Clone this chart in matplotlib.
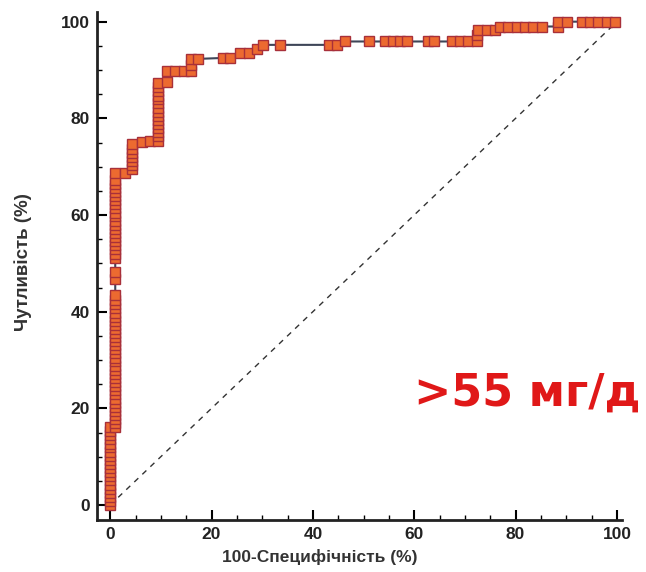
import matplotlib.pyplot as plt

# ROC points (100-specificity %, sensitivity %)
# first vertical run sits at x = 0, second one at x = 1
col0_fpr = 0.0
col0_tpr = [0, 0.8, 1.7, 2.5, 3.4, 4.2, 5.1, 5.9, 6.8, 7.6,
            8.5, 9.3, 10.2, 11.0, 11.9, 12.7, 13.6, 14.4, 15.3, 16.1]
col1_fpr = 1.0
col1_tpr = [16.1, 16.9, 17.8, 18.6, 19.5, 20.3, 21.2, 22.0, 22.9, 23.7,
            24.6, 25.4, 26.3, 27.1, 28.0, 28.8, 29.7, 30.5, 31.4, 32.2,
            33.1, 33.9, 34.7, 35.6, 36.4, 37.3, 38.1, 39.0, 39.8, 40.7,
            41.5, 42.4, 43.4, 46.7, 48.2, 51.2, 52.0, 52.9, 53.7, 54.6,
            55.4, 56.3, 57.1, 58.0, 58.8, 59.7, 60.5, 61.4, 62.2, 63.1,
            63.9, 64.8, 65.6, 66.5, 67.3, 68.6]
tail_fpr = [3.0, 4.4, 4.4, 4.4, 4.4, 4.4, 4.4, 4.4, 6.2, 7.9,
            9.4, 9.4, 9.4, 9.4, 9.4, 9.4, 9.4, 9.4, 9.4, 9.4, 9.4, 9.4, 9.4, 9.4, 9.4,
            11.2, 11.2, 12.8, 14.5, 16.0, 16.0, 16.0, 17.4, 22.3, 23.7,
            25.6, 27.3, 28.9, 30.2, 33.5, 43.1, 44.7, 46.4, 51.0, 54.2,
            55.8, 57.2, 58.6, 62.7, 63.9, 67.4, 69.0, 70.6, 72.4, 72.4,
            72.6, 74.3, 75.9, 76.9, 78.5, 80.3, 81.9, 83.4, 85.2, 88.4,
            88.4, 90.1, 93.1, 94.7, 96.3, 98.0, 99.6]
tail_tpr = [68.6, 69.5, 70.3, 71.2, 72.0, 72.9, 73.7, 74.6, 75.2, 75.4,
            75.4, 76.3, 77.1, 78.0, 78.8, 79.7, 80.5, 81.4, 82.2, 83.1, 83.9, 84.7, 85.6, 86.4, 87.3,
            87.6, 89.7, 89.7, 89.7, 89.7, 91.0, 92.3, 92.3, 92.5, 92.5,
            93.5, 93.5, 94.4, 95.2, 95.2, 95.2, 95.2, 95.9, 95.9, 95.9,
            95.9, 95.9, 95.9, 95.9, 95.9, 95.9, 95.9, 95.9, 95.9, 97.3,
            98.2, 98.2, 98.2, 99.0, 99.0, 99.0, 99.0, 99.0, 99.0, 99.0,
            100, 100, 100, 100, 100, 100, 100]

fpr = [col0_fpr] * len(col0_tpr) + [col1_fpr] * len(col1_tpr) + tail_fpr
tpr = col0_tpr + col1_tpr + tail_tpr

xlbl = '100-Специфічність (%)'
ylbl = 'Чутливість (%)'
note = '>55 мг/д'

plt.rcParams['font.family'] = ['Liberation Sans', 'DejaVu Sans']

fig = plt.figure(figsize=(6.46, 5.72), dpi=100)
ax = fig.add_axes([97 / 646, 52 / 572, 525 / 646, 508 / 572])

# reference diagonal
ax.plot([0, 100], [0, 100], ls=(0, (4, 4)), color='#333333', lw=1.0, zorder=1)
# ROC curve
ax.plot(fpr, tpr, '-s', color='#3e4658', lw=1.5, ms=7.8,
        mfc='#ec6a30', mec='#a8303a', mew=1.0, zorder=2)

ax.set_xlim(-2.6, 101)
ax.set_ylim(-3.1, 102)
ax.set_xticks(range(0, 101, 20))
ax.set_xticks(range(0, 101, 5), minor=True)
ax.set_yticks(range(0, 101, 20))
ax.set_yticks(range(0, 101, 5), minor=True)
ax.tick_params(which='major', direction='in', length=7, width=1.5,
               labelsize=12.5, labelcolor='#222222', pad=5)
ax.tick_params(which='minor', direction='in', length=3.5, width=1.0)
for lbl in ax.get_xticklabels() + ax.get_yticklabels():
    lbl.set_fontweight('bold')

for s in ['top', 'right']:
    ax.spines[s].set_visible(False)
for s in ['left', 'bottom']:
    ax.spines[s].set_linewidth(2)
    ax.spines[s].set_color('#222222')

ax.set_xlabel(xlbl, fontsize=12.5, fontweight='bold', color='#333333')
ax.xaxis.set_label_coords(0.425, -0.058)
ax.set_ylabel(ylbl, fontsize=13.5, fontweight='bold', color='#333333')
ax.yaxis.set_label_coords(-0.124, 0.508)

ax.text(60, 23.2, note, color='#e01818', fontsize=32, fontweight='bold',
        family=['DejaVu Sans'], ha='left', va='center')

plt.savefig('out.png', dpi=100)
